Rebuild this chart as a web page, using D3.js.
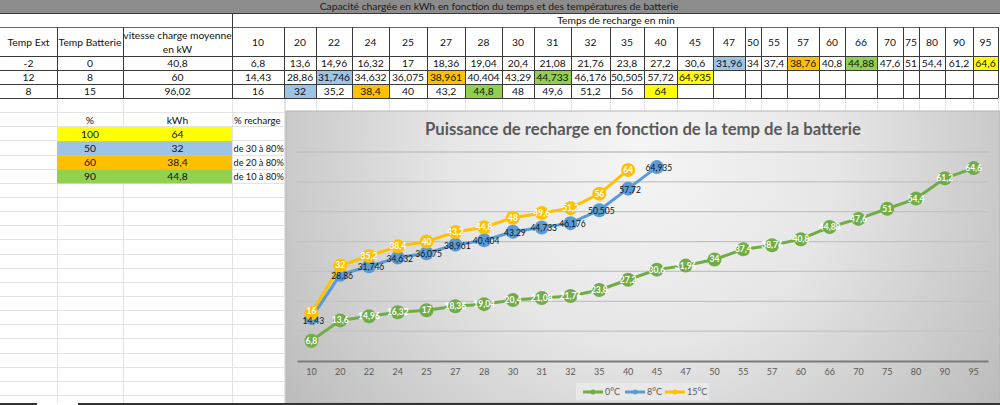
<!DOCTYPE html>
<html><head><meta charset="utf-8">
<script src="https://cdn.jsdelivr.net/npm/d3@7"></script>
<style>
html,body{margin:0;padding:0;background:#fff;}
svg{display:block;}
text{font-family:Lato,"Open Sans",sans-serif;}
</style></head>
<body>
<svg id="c" width="1000" height="405"></svg>
<script>
// ---------- DATA ----------
const sheetTitle = "Capacité chargée en kWh en fonction du temps et des températures de batterie";
const timeHeader = "Temps de recharge en min";
const chartTitle = "Puissance de recharge en fonction de la temp de la batterie";
const categories = ["10","20","22","24","25","27","28","30","31","32","35","40","45","47","50","55","57","60","66","70","75","80","90","95"];
const tempExt = [-2, 12, 8];
const tempBatt = [0, 8, 15];
const avgPower = [40.8, 60, 96.02];
const seriesNames = ["0°C","8°C","15°C"];
const s0 = [6.8,13.6,14.96,16.32,17,18.36,19.04,20.4,21.08,21.76,23.8,27.2,30.6,31.96,34,37.4,38.76,40.8,44.88,47.6,51,54.4,61.2,64.6];
const s8 = [14.43,28.86,31.746,34.632,36.075,38.961,40.404,43.29,44.733,46.176,50.505,57.72,64.935];
const s15 = [16,32,35.2,38.4,40,43.2,44.8,48,49.6,51.2,56,64];
// highlighted category per row (row order: 0°C, 8°C, 15°C)
const blueAt = ["47","22","20"];
const orangeAt = ["57","27","24"];
const greenAt = ["66","31","28"];
const yellowAt = ["95","45","40"];
// small reference table
const refPct = [100, 50, 60, 90];
const refKwh = [64, 32, 38.4, 44.8];
const refRange = ["", "de 30 à 80%", "de 20 à 80%", "de 10 à 80%"];
const refHeaders = ["%", "kWh", "% recharge"];
const yTicks = [0,10,20,30,40,50,60,70];

// ---------- STYLE / LAYOUT ----------
const C = {green:"#70AD47", blue:"#5B9BD5", yellow:"#FFC000",
  cBlue:"#9DC3E6", cOrange:"#FFC000", cGreen:"#92D050", cYellow:"#FFFF00"};
const fmt = v => String(v).replace(".", ",");
const svg = d3.select("#c");
const colEdges = [232,284,316,352,389,427,465,502,534,571,610,644,677,713,745,761,787,819,845,877,903,919,945,973,998];
const rowTop = [56,70,84,98];

// light sheet gridlines
const light = svg.append("g").attr("stroke","#e3e3e3").attr("stroke-width",1);
for (let k=0;k<=22;k++){ const yy=Math.round(98+14.14*k)+0.5;
  light.append("line").attr("x1",0).attr("x2",1000).attr("y1",yy).attr("y2",yy); }
[57,123,232,285].concat(colEdges).forEach(xx=>{
  light.append("line").attr("x1",xx+0.5).attr("x2",xx+0.5).attr("y1",98).attr("y2",403);
});

// title bar
svg.append("rect").attr("x",0).attr("y",0).attr("width",1000).attr("height",13).attr("fill","#8c8c8c");

// cell fills
const rowsData = [s0, s8, s15];
const hl = [[blueAt,C.cBlue],[orangeAt,C.cOrange],[greenAt,C.cGreen],[yellowAt,C.cYellow]];
const fills = svg.append("g");
rowsData.forEach((vals,r)=>{
  hl.forEach(([arr,col])=>{
    const i = categories.indexOf(arr[r]);
    fills.append("rect").attr("x",colEdges[i]).attr("y",rowTop[r]).attr("width",colEdges[i+1]-colEdges[i]).attr("height",14).attr("fill",col);
  });
});
const refFill = [C.cYellow, C.cBlue, C.cOrange, C.cGreen];
refPct.forEach((p,k)=>{
  fills.append("rect").attr("x",57).attr("y",127 + 14.1*k).attr("width",175).attr("height",14.1).attr("fill",refFill[k]);
});

// table borders
const bd = svg.append("g").attr("stroke","#3a3a3a").attr("stroke-width",1);
bd.append("line").attr("x1",0).attr("x2",1000).attr("y1",13.5).attr("y2",13.5);
bd.append("line").attr("x1",0).attr("x2",998).attr("y1",27.5).attr("y2",27.5).attr("stroke","#666");
[56,70,84,98].forEach(yy=>bd.append("line").attr("x1",0).attr("x2",998).attr("y1",yy+0.5).attr("y2",yy+0.5));
[57,123].forEach(xx=>bd.append("line").attr("x1",xx+0.5).attr("x2",xx+0.5).attr("y1",27).attr("y2",98));
bd.append("line").attr("x1",232.5).attr("x2",232.5).attr("y1",13).attr("y2",98);
colEdges.slice(1).forEach(xx=>bd.append("line").attr("x1",xx+0.5).attr("x2",xx+0.5).attr("y1",27).attr("y2",98));

// texts
const tg = svg.append("g").attr("font-size",10.3).attr("fill","#111").attr("text-anchor","middle");
tg.append("text").attr("x",499).attr("y",10).attr("fill","#1a1a1a").text(sheetTitle);
tg.append("text").attr("x",616).attr("y",24).text(timeHeader);
tg.append("text").attr("x",28.5).attr("y",45.5).text("Temp Ext");
tg.append("text").attr("x",90).attr("y",45.5).text("Temp Batterie");
tg.append("text").attr("x",177.5).attr("y",38.5).text("vitesse charge moyenne");
tg.append("text").attr("x",177.5).attr("y",52.5).text("en kW");
categories.forEach((c,i)=>tg.append("text").attr("x",(colEdges[i]+colEdges[i+1])/2).attr("y",45.5).text(c));
rowsData.forEach((vals,r)=>{
  const yb = rowTop[r]+10.8;
  tg.append("text").attr("x",28.5).attr("y",yb).text(tempExt[r]);
  tg.append("text").attr("x",90).attr("y",yb).text(tempBatt[r]);
  tg.append("text").attr("x",177.5).attr("y",yb).text(fmt(avgPower[r]));
  vals.forEach((v,i)=>tg.append("text").attr("x",(colEdges[i]+colEdges[i+1])/2).attr("y",yb).text(fmt(v)));
});
refPct.forEach((p,k)=>{
  const yy = 127 + 14.1*k;
  tg.append("text").attr("x",90).attr("y",yy+10.6).text(p);
  tg.append("text").attr("x",177.5).attr("y",yy+10.6).text(fmt(refKwh[k]));
  if (refRange[k]) tg.append("text").attr("x",233.5).attr("y",yy+10.6).attr("text-anchor","start").attr("font-size",9.2).text(refRange[k]);
});
tg.append("text").attr("x",90).attr("y",123.5).text(refHeaders[0]);
tg.append("text").attr("x",177.5).attr("y",123.5).text(refHeaders[1]);
tg.append("text").attr("x",234).attr("y",123.5).attr("text-anchor","start").attr("font-size",9.6).text(refHeaders[2]);

// ---------- CHART ----------
const defs = svg.append("defs");
const rg = defs.append("radialGradient").attr("id","bg").attr("gradientUnits","userSpaceOnUse")
  .attr("cx",643).attr("cy",150).attr("r",430);
rg.append("stop").attr("offset","0%").attr("stop-color","#f5f5f5");
rg.append("stop").attr("offset","45%").attr("stop-color","#e6e6e6");
rg.append("stop").attr("offset","100%").attr("stop-color","#bdbdbd");
svg.append("rect").attr("x",286).attr("y",111).attr("width",714).attr("height",292)
  .attr("fill","url(#bg)").attr("stroke","#b5b5b5").attr("stroke-width",1);

const x = d3.scaleBand().domain(categories).range([297,988]).padding(0);
const y = d3.scaleLinear().domain([0,70]).range([361,152]);
const cx = c => x(c) + x.bandwidth()/2;

svg.append("g").selectAll("line").data(yTicks.slice(1)).join("line")
  .attr("x1",297).attr("x2",988).attr("y1",d=>y(d)).attr("y2",d=>y(d))
  .attr("stroke","#c2c2c2").attr("stroke-width",1.3);

const xAxis = svg.append("g").attr("transform","translate(0,361)")
  .call(d3.axisBottom(x).tickSize(0).tickPadding(8));
xAxis.select(".domain").attr("stroke","#7a7a7a").attr("stroke-width",2);
xAxis.selectAll("text").attr("fill","#595959").attr("font-size",9).attr("font-family","Lato,sans-serif");

svg.append("text").attr("x",643).attr("y",135).attr("text-anchor","middle")
  .attr("font-size",16.7).attr("font-weight","bold").attr("fill","#595959").text(chartTitle);

const series = [
  {name:seriesNames[0], vals:s0, color:C.green, lab:"#fff"},
  {name:seriesNames[1], vals:s8, color:C.blue, lab:"#111"},
  {name:seriesNames[2], vals:s15, color:C.yellow, lab:"#fff"}
];
const line = d3.line().x((d,i)=>cx(categories[i])).y(d=>y(d));
series.forEach(s=>{
  const g = svg.append("g");
  g.append("path").attr("d",line(s.vals)).attr("fill","none").attr("stroke",s.color).attr("stroke-width",3);
  g.selectAll("circle").data(s.vals).join("circle")
    .attr("cx",(d,i)=>cx(categories[i])).attr("cy",d=>y(d)).attr("r",7).attr("fill",s.color);
});
series.forEach((s,si)=>{
  svg.append("g").selectAll("text").data(s.vals).join("text")
    .attr("x",(d,i)=>cx(categories[i]) + (si===1?2:0))
    .attr("y",(d,i)=>y(d)+3+(si===1?1:0)+(si===1&&i===0?2:0)+(si===2&&i===0?-2:0))
    .attr("text-anchor","middle").attr("font-size",8.5).attr("font-weight",si===1?"normal":"bold")
    .attr("fill",s.lab).text(d=>fmt(d));
});

// legend
svg.append("rect").attr("x",576).attr("y",383).attr("width",133).attr("height",17).attr("fill","#ececec").attr("opacity",0.7);
const legX = [583, 625, 665];
series.forEach((s,i)=>{
  const g = svg.append("g");
  g.append("line").attr("x1",legX[i]).attr("x2",legX[i]+20).attr("y1",392).attr("y2",392).attr("stroke",s.color).attr("stroke-width",3);
  g.append("circle").attr("cx",legX[i]+10).attr("cy",392).attr("r",2.5).attr("fill",s.color);
  g.append("text").attr("x",legX[i]+22).attr("y",395).attr("font-size",9).attr("fill","#595959").text(s.name);
});

// bottom bar
svg.append("rect").attr("x",0).attr("y",403).attr("width",37).attr("height",2).attr("fill","#333");
svg.append("rect").attr("x",78).attr("y",403).attr("width",922).attr("height",2).attr("fill","#333");
</script>
</body></html>
